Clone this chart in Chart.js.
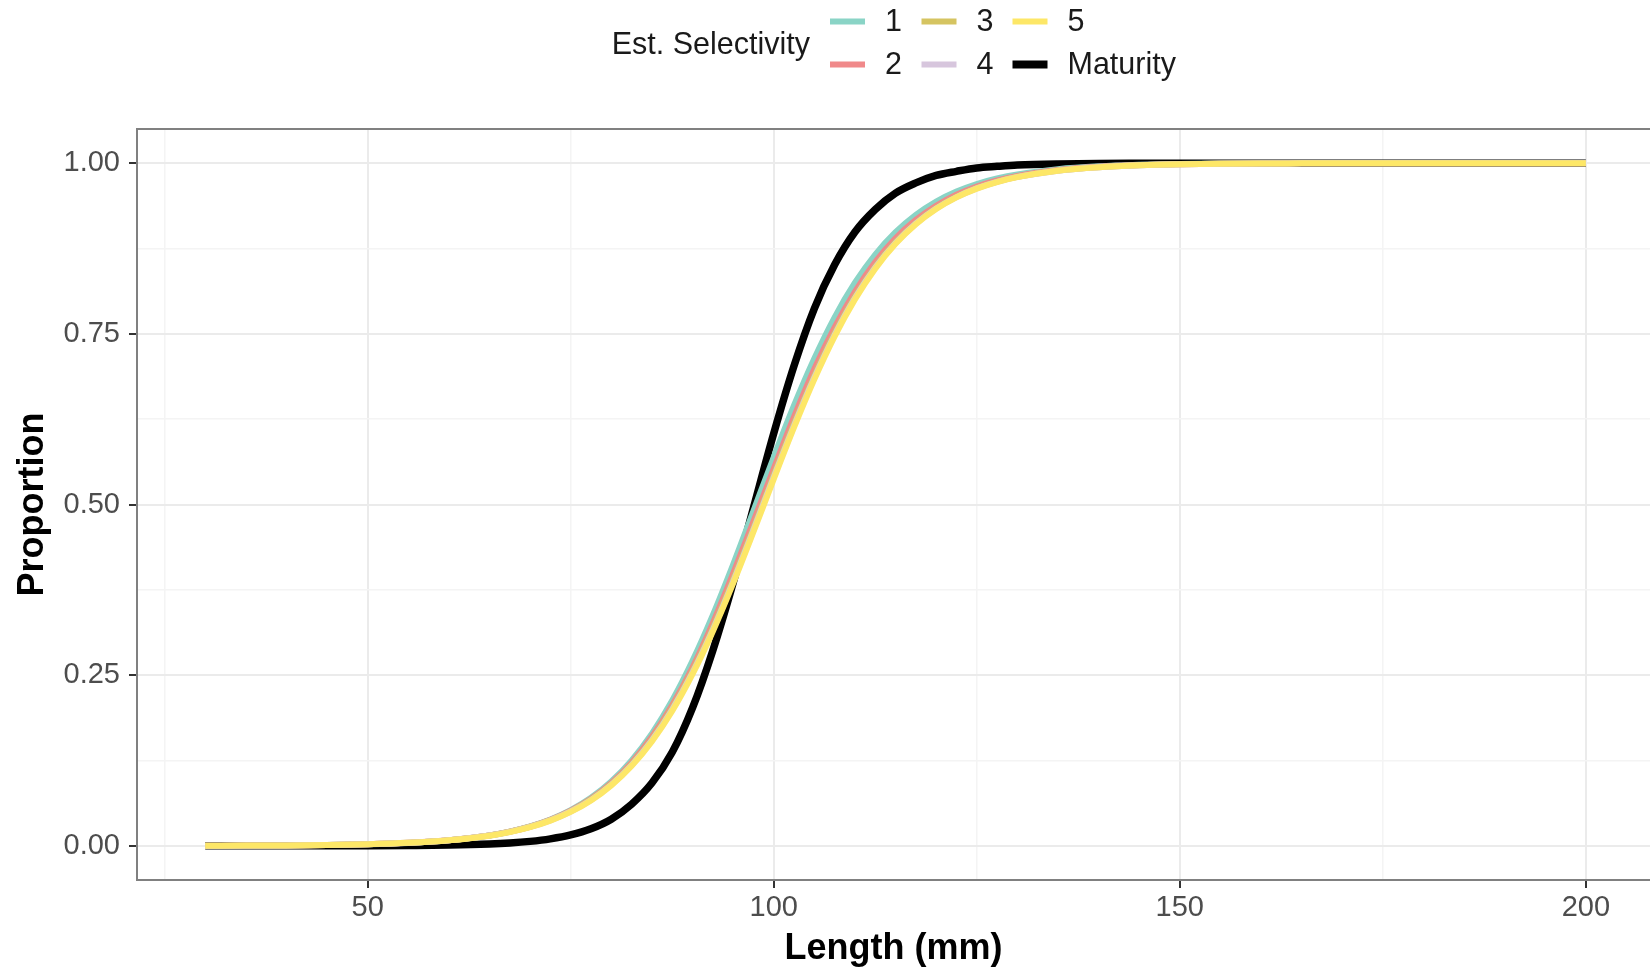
<!DOCTYPE html>
<html>
<head>
<meta charset="utf-8">
<title>Selectivity vs maturity</title>
<script src="https://cdn.jsdelivr.net/npm/chart.js@4.4.1/dist/chart.umd.min.js"></script>
<style>
	html, body { margin: 0; padding: 0; background: #fff; }
	#wrap { width: 1650px; height: 971px; }
</style>
</head>
<body>
<div id="wrap"><canvas id="sel-chart" width="1650" height="971"></canvas></div>
<script>
	// Length bins (mm), finer through the steep part of the curves
	var lengths = [30,35,40,45,50,55,60,65,
		67.5,70,72.5,75,77.5,80,82.5,85,87.5,90,92.5,95,97.5,100,102.5,105,107.5,110,112.5,115,117.5,120,122.5,125,127.5,130,
		135,140,145,150,155,160,165,170,175,180,185,190,195,200];

	// Estimated selectivity curves, one per model run
	var sel1 = [0.0002,0.0003,0.0007,0.0012,0.0023,0.0043,0.0081,0.0153,
		0.0209,0.0285,0.0387,0.0524,0.0706,0.0944,0.1253,0.1644,0.2128,0.2709,0.3378,0.4120,0.4905,0.5693,0.6450,0.7138,0.7742,0.8248,0.8661,0.8988,0.9242,0.9437,0.9584,0.9694,0.9775,0.9835,
		0.9912,0.9953,0.9975,0.9987,0.9993,0.9996,0.9998,0.9999,0.9999,1,1,1,1,1];
	var sel2 = [0.0002,0.0004,0.0007,0.0013,0.0024,0.0045,0.0082,0.0154,
		0.0208,0.0282,0.0382,0.0516,0.0691,0.0921,0.1219,0.1597,0.2059,0.2612,0.3263,0.3989,0.4750,0.5523,0.6283,0.6985,0.7595,0.8116,0.8551,0.8899,0.9168,0.9376,0.9537,0.9658,0.9747,0.9813,
		0.9899,0.9946,0.9971,0.9984,0.9992,0.9996,0.9998,0.9999,0.9999,1,1,1,1,1];
	var sel3 = [0.0002,0.0004,0.0007,0.0013,0.0024,0.0045,0.0083,0.0153,
		0.0207,0.0280,0.0378,0.0509,0.0681,0.0906,0.1196,0.1563,0.2017,0.2562,0.3195,0.3903,0.4660,0.5434,0.6187,0.6887,0.7510,0.8044,0.8486,0.8843,0.9124,0.9343,0.9510,0.9636,0.9730,0.9800,
		0.9892,0.9941,0.9968,0.9983,0.9991,0.9995,0.9997,0.9999,0.9999,1,1,1,1,1];
	var sel4 = [0.0002,0.0004,0.0007,0.0013,0.0024,0.0044,0.0082,0.0151,
		0.0205,0.0277,0.0374,0.0503,0.0673,0.0896,0.1182,0.1546,0.1996,0.2537,0.3167,0.3872,0.4628,0.5402,0.6156,0.6859,0.7486,0.8024,0.8470,0.8830,0.9114,0.9335,0.9503,0.9631,0.9726,0.9798,
		0.9890,0.9940,0.9968,0.9983,0.9991,0.9995,0.9997,0.9999,0.9999,1,1,1,1,1];
	var sel5 = [0.0002,0.0004,0.0007,0.0013,0.0024,0.0044,0.0081,0.0149,
		0.0202,0.0273,0.0369,0.0497,0.0665,0.0886,0.1170,0.1530,0.1976,0.2515,0.3141,0.3844,0.4598,0.5372,0.6128,0.6833,0.7463,0.8004,0.8454,0.8818,0.9105,0.9327,0.9498,0.9626,0.9723,0.9795,
		0.9889,0.9940,0.9968,0.9983,0.9991,0.9995,0.9997,0.9999,0.9999,1,1,1,1,1];

	// Maturity ogive
	var maturity = [0,0,0,0.0001,0.0002,0.0005,0.0011,0.0027,
		0.0042,0.0066,0.0103,0.0160,0.0250,0.0390,0.0610,0.0920,0.1370,0.2020,0.2860,0.3850,0.4950,0.6040,0.7030,0.7870,0.8510,0.8990,0.9320,0.9560,0.9710,0.9820,0.9880,0.9930,0.9953,0.9972,
		0.9989,0.9996,0.9998,0.9999,1,1,1,1,1,1,1,1,1,1];

	var seriesLabels = ['1', '2', '3', '4', '5', 'Maturity'];
	var seriesValues = [sel1, sel2, sel3, sel4, sel5, maturity];

	// Tick positions; minor ones only carry a light grid line
	var xTicks = [25, 50, 75, 100, 125, 150, 175, 200];
	var xMajor = [50, 100, 150, 200];
	var yTicks = [0, 0.125, 0.25, 0.375, 0.5, 0.625, 0.75, 0.875, 1];
	var yMajor = [0, 0.25, 0.5, 0.75, 1];

	// TODO: keep colours with the other palette bits
	var colors = ['#8AD4C6', '#F0898A', '#D5C461', '#D7C6DD', '#FDE767', '#000000'];
	var FONT = '"Liberation Sans", Arial, Helvetica, sans-serif';

	var toPoints = function(vals) {
		var pts = [];
		for (var i = 0; i < lengths.length; i++) {
			pts.push({x: lengths[i], y: vals[i]});
		}
		return pts;
	};

	var datasets = [];
	for (var i = 0; i < seriesLabels.length; i++) {
		var isMat = seriesLabels[i] == 'Maturity';
		datasets.push({
			label: seriesLabels[i],
			data: toPoints(seriesValues[i]),
			borderColor: colors[i],
			borderWidth: isMat ? 7.5 : 6,
			borderCapStyle: 'butt',
			pointRadius: 0,
			fill: false,
			cubicInterpolationMode: 'monotone',
			// maturity underneath, run 5 on top
			order: isMat ? 10 : 6 - i
		});
	}

	var isIn = function(list, v) {
		for (var i = 0; i < list.length; i++) {
			if (Math.abs(list[i] - v) < 1e-9) return true;
		}
		return false;
	};

	// Panel frame (right edge falls just off the canvas, as in the original)
	var panelBorder = {
		id: 'panelBorder',
		afterDraw: function(chart) {
			var a = chart.chartArea, ctx = chart.ctx;
			ctx.save();
			ctx.strokeStyle = '#808080';
			ctx.lineWidth = 2;
			ctx.strokeRect(a.left, a.top, a.right - a.left + 10, a.bottom - a.top);
			ctx.restore();
		}
	};

	// ggplot-like legend: title on the left, keys filled column by column
	var selLegend = {
		id: 'selLegend',
		afterDraw: function(chart) {
			var ctx = chart.ctx;
			var colX = [830, 921.5, 1012.5];
			var rowY = [21.5, 64.5];
			ctx.save();
			ctx.font = '30.5px ' + FONT;
			ctx.fillStyle = '#1a1a1a';
			ctx.textBaseline = 'middle';
			ctx.textAlign = 'right';
			ctx.fillText('Est. Selectivity', 810, 46);
			ctx.textAlign = 'left';
			var sets = chart.data.datasets;
			for (var i = 0; i < sets.length; i++) {
				var x = colX[Math.floor(i / 2)];
				var y = rowY[i % 2];
				ctx.strokeStyle = sets[i].borderColor;
				ctx.lineWidth = sets[i].label == 'Maturity' ? 8 : 6;
				ctx.lineCap = 'butt';
				ctx.beginPath();
				ctx.moveTo(x, y);
				ctx.lineTo(x + 35, y);
				ctx.stroke();
				ctx.fillText(sets[i].label, x + 55, y + 1);
			}
			ctx.restore();
		}
	};

	var ctx = document.getElementById('sel-chart').getContext('2d');
	var chart = new Chart(ctx, {
		type: 'line',
		data: {datasets: datasets},
		plugins: [panelBorder, selLegend],
		options: {
			responsive: false,
			devicePixelRatio: 1,
			animation: false,
			layout: {padding: {top: 129, left: 0, right: 0, bottom: 0}},
			plugins: {
				legend: {display: false},
				tooltip: {enabled: false}
			},
			scales: {
				x: {
					type: 'linear',
					min: 21.6,
					max: 207.9,
					afterBuildTicks: function(scale) {
						scale.ticks = xTicks.map(function(v) { return {value: v}; });
					},
					afterFit: function(scale) { scale.height = 91; },
					border: {display: false},
					grid: {
						color: function(c) { return c.tick && isIn(xMajor, c.tick.value) ? '#ebebeb' : '#f4f4f4'; },
						lineWidth: function(c) { return c.tick && isIn(xMajor, c.tick.value) ? 2 : 1.5; },
						tickColor: function(c) { return c.tick && isIn(xMajor, c.tick.value) ? '#333333' : 'rgba(0,0,0,0)'; },
						tickLength: 8,
						tickWidth: 2
					},
					ticks: {
						autoSkip: false,
						maxRotation: 0,
						padding: 3,
						color: '#4d4d4d',
						font: {family: FONT, size: 29},
						callback: function(v) { return isIn(xMajor, v) ? String(v) : ''; }
					},
					title: {
						display: true,
						text: 'Length (mm)',
						color: '#000',
						font: {family: FONT, size: 36, weight: 'bold', lineHeight: 1.2},
						padding: {top: 0, bottom: 0.5}
					}
				},
				y: {
					type: 'linear',
					min: -0.05,
					max: 1.05,
					afterBuildTicks: function(scale) {
						scale.ticks = yTicks.map(function(v) { return {value: v}; });
					},
					afterFit: function(scale) { scale.width = 137; },
					border: {display: false},
					grid: {
						color: function(c) { return c.tick && isIn(yMajor, c.tick.value) ? '#ebebeb' : '#f4f4f4'; },
						lineWidth: function(c) { return c.tick && isIn(yMajor, c.tick.value) ? 2 : 1.5; },
						tickColor: function(c) { return c.tick && isIn(yMajor, c.tick.value) ? '#333333' : 'rgba(0,0,0,0)'; },
						tickLength: 8,
						tickWidth: 2
					},
					ticks: {
						autoSkip: false,
						padding: 9,
						color: '#4d4d4d',
						font: {family: FONT, size: 29},
						callback: function(v) { return isIn(yMajor, v) ? v.toFixed(2) : ''; }
					},
					title: {
						display: true,
						text: 'Proportion',
						color: '#000',
						font: {family: FONT, size: 36, weight: 'bold', lineHeight: 1.2},
						padding: {top: 11.5, bottom: 0}
					}
				}
			}
		}
	});
</script>
</body>
</html>
